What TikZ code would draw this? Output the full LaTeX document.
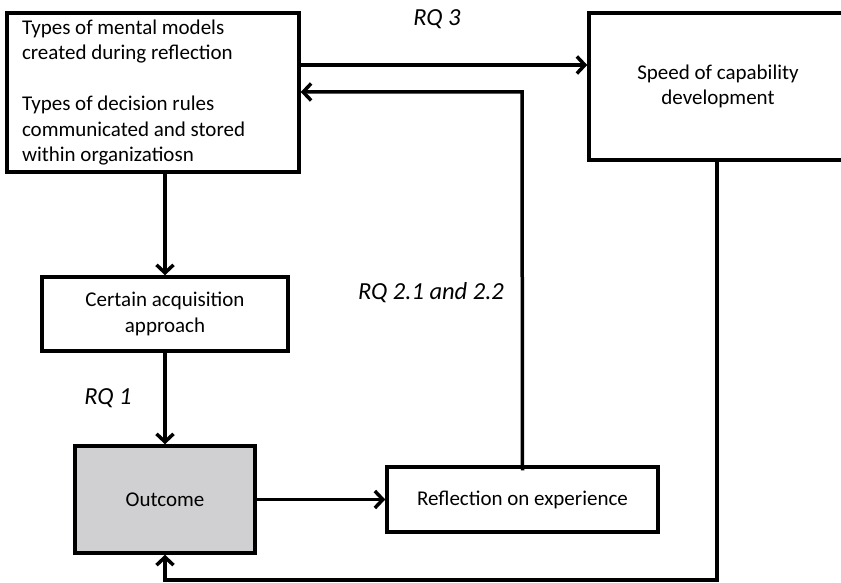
\documentclass[tikz,border=0pt]{standalone}
\usepackage{fontspec}
\setmainfont{Carlito}
\usetikzlibrary{arrows.meta}
\begin{document}
\begin{tikzpicture}[x=1pt,y=-1pt,
  box/.style={draw=black,line width=3.5pt,fill=white,inner sep=0pt,
    font=\fontsize{21}{25.5}\selectfont,align=center},
  link/.style={line width=3.5pt,line join=miter,
    -{Straight Barb[length=8pt,width=17pt,line width=3.5pt]}},
  rq/.style={font=\fontsize{24.5}{28}\selectfont\itshape,inner sep=0pt}]
\useasboundingbox (0,0) rectangle (841,583);
\clip (0,0) rectangle (841,583);

% boxes
\node[box,minimum width=292pt,minimum height=159pt,text width=262pt,
      align=flush left] (types) at (153,92.5)
  {Types of mental models\\created during reflection\\[25.5pt]Types of decision rules\\communicated and stored\\within organizatiosn};
\node[box,minimum width=258pt,minimum height=147pt] (speed) at (718,86.5)
  {Speed of capability\\development};
\node[box,minimum width=246pt,minimum height=74pt] (approach) at (165,314)
  {Certain acquisition\\approach};
\node[box,fill={rgb,255:red,208;green,208;blue,210},minimum width=180pt,minimum height=107pt]
  (outcome) at (165,499.5) {Outcome};
\node[box,minimum width=271pt,minimum height=65pt] (reflect) at (522.5,499.5)
  {Reflection on experience};

% corner points of the feedback loops
\coordinate (upR) at (522,92);
\coordinate (loR) at (717,580);
\coordinate (loL) at (165,580);

% connectors
\draw[link] (types.south -| approach.north) -- (approach.north);
\draw[link] (approach.south) -- (outcome.north);
\draw[link] (types.east |- 0,65) -- (speed.west |- 0,65);
\draw[link] ([yshift=-5pt]reflect.north) -- (upR) -- (types.east |- upR);
\draw[link] (outcome.east) -- (reflect.west);
\draw[link] (speed.south -| loR) -- (loR) -- (loL) -- (outcome.south);

% labels
\node[rq] (rq3) at (437,19) {RQ 3};
\node[rq] (rq2) at (431,293) {RQ 2.1 and 2.2};
\node[rq] (rq1) at (108,398) {RQ 1};
\end{tikzpicture}
\end{document}
